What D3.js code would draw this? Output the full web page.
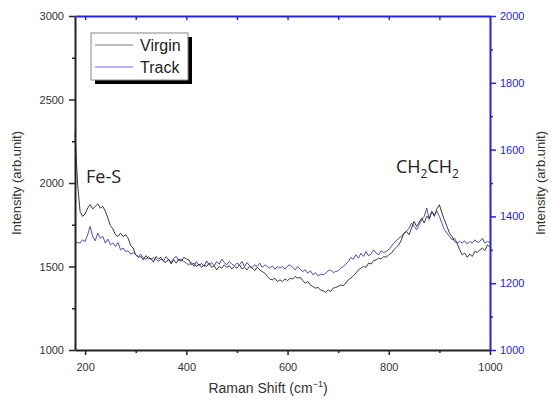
<!DOCTYPE html>
<html>
<head>
<meta charset="utf-8">
<style>
  body { margin: 0; background: #fff; }
  svg { display: block; font-family: "Liberation Sans", Arial, sans-serif; }
</style>
</head>
<body>
<script src="https://d3js.org/d3.v7.min.js"></script>
<script>
// Raman shift sampling (cm-1)
var shift = [180,185,190,195,200,205,210,215,220,225,230,235,240,245,250,255,260,265,270,275,
  280,285,290,295,300,305,310,315,320,325,330,335,340,345,350,355,360,365,370,375,
  380,385,390,395,400,405,410,415,420,425,430,435,440,445,450,455,460,465,470,475,
  480,485,490,495,500,505,510,515,520,525,530,535,540,545,550,555,560,565,570,575,
  580,585,590,595,600,605,610,615,620,625,630,635,640,645,650,655,660,665,670,675,
  680,685,690,695,700,705,710,715,720,725,730,735,740,745,750,755,760,765,770,775,
  780,785,790,795,800,805,810,815,820,825,830,835,840,845,850,855,860,865,870,875,
  880,885,890,895,900,905,910,915,920,925,930,935,940,945,950,955,960,965,970,975,
  980,985,990,995,1000];

// Virgin, left axis
var virgin = [2300,2000,1830,1800,1815,1850,1870,1845,1860,1875,1850,1860,1830,1790,1745,1725,1690,1680,1700,1680,
  1690,1670,1625,1610,1570,1555,1560,1540,1565,1545,1550,1525,1560,1545,1555,1530,1525,1545,1515,1540,
  1520,1545,1530,1555,1545,1540,1510,1520,1500,1515,1495,1510,1500,1520,1495,1505,1480,1500,1490,1510,
  1495,1505,1485,1500,1490,1510,1485,1495,1480,1500,1490,1475,1495,1480,1470,1460,1440,1425,1420,1430,
  1410,1420,1410,1425,1415,1430,1425,1440,1430,1435,1415,1400,1410,1390,1380,1370,1375,1360,1355,1345,
  1360,1350,1370,1375,1380,1390,1385,1400,1420,1430,1445,1460,1480,1490,1500,1495,1520,1515,1535,1540,
  1550,1545,1560,1555,1570,1580,1600,1615,1630,1660,1700,1710,1690,1730,1770,1740,1765,1790,1760,1800,
  1790,1830,1800,1845,1870,1820,1780,1740,1700,1680,1650,1640,1600,1570,1580,1555,1575,1560,1590,1585,
  1600,1610,1595,1630,1615];

// Track, right axis
var track = [1320,1322,1320,1330,1325,1345,1370,1340,1327,1350,1335,1340,1320,1332,1315,1320,1310,1322,1300,1305,
  1295,1297,1287,1292,1285,1280,1287,1275,1272,1280,1270,1277,1272,1265,1272,1267,1280,1270,1262,1275,
  1280,1267,1272,1265,1260,1255,1262,1250,1265,1252,1260,1250,1267,1255,1262,1252,1265,1257,1272,1262,
  1255,1265,1257,1252,1260,1255,1265,1250,1262,1252,1247,1255,1250,1260,1247,1255,1250,1245,1252,1242,
  1250,1245,1250,1242,1252,1255,1247,1240,1250,1242,1235,1240,1230,1237,1225,1232,1222,1227,1225,1230,
  1237,1240,1232,1235,1237,1245,1250,1257,1265,1277,1272,1285,1275,1290,1280,1295,1282,1287,1300,1290,
  1285,1297,1292,1295,1300,1310,1320,1327,1335,1340,1350,1355,1365,1380,1370,1360,1375,1390,1400,1425,
  1390,1415,1405,1415,1400,1380,1360,1350,1340,1330,1335,1320,1325,1320,1327,1317,1325,1320,1330,1322,
  1325,1335,1320,1325,1322];

var leftTicks = [1000,1500,2000,2500,3000];
var rightTicks = [1000,1200,1400,1600,1800,2000];
var xTicks = [200,400,600,800,1000];

var W = 551, H = 407;
var L = 75, R = 490, T = 16, B = 350;
var blue = "#2424d8";
var fmt = d3.format("d");

var svg = d3.select("body").append("svg").attr("width", W).attr("height", H);

var x = d3.scaleLinear().domain([180, 1000]).range([L, R]);
var yL = d3.scaleLinear().domain([1000, 3000]).range([B, T]);
var yR = d3.scaleLinear().domain([1000, 2000]).range([B, T]);

// data lines
var lineV = d3.line().x(function(d, i){ return x(shift[i]); }).y(function(d){ return yL(d); });
var lineT = d3.line().x(function(d, i){ return x(shift[i]); }).y(function(d){ return yR(d); });

var plot = svg.append("g");
plot.append("path").datum(track).attr("d", lineT)
  .attr("fill", "none").attr("stroke", "#4f4fb0").attr("stroke-width", 1);
plot.append("path").datum(virgin).attr("d", lineV)
  .attr("fill", "none").attr("stroke", "#3a3a3a").attr("stroke-width", 1);

// axes
function styleAxis(g, col) {
  g.select(".domain").attr("stroke", col).attr("stroke-width", 2);
  g.selectAll(".tick line").attr("stroke", col).attr("stroke-width", 1.5);
  g.selectAll(".tick text").attr("fill", col).attr("font-size", 11);
}

var gl = svg.append("g").attr("transform", "translate(" + L + ",0)")
  .call(d3.axisLeft(yL).tickValues(leftTicks).tickFormat(fmt).tickSize(6).tickSizeOuter(0).tickPadding(5));
styleAxis(gl, "#222");
gl.selectAll(".tick text").attr("fill", "#333");
svg.append("g").attr("transform", "translate(" + L + ",0)")
  .call(d3.axisLeft(yL).tickValues([1250,1750,2250,2750]).tickSize(3).tickFormat(""))
  .call(function(g){ g.select(".domain").remove(); g.selectAll("line").attr("stroke", "#222").attr("stroke-width", 1.5); });

var gb = svg.append("g").attr("transform", "translate(0," + B + ")")
  .call(d3.axisBottom(x).tickValues(xTicks).tickFormat(fmt).tickSize(5).tickSizeOuter(0).tickPadding(8));
styleAxis(gb, "#222");
gb.selectAll(".tick text").attr("fill", "#333");
svg.append("g").attr("transform", "translate(0," + B + ")")
  .call(d3.axisBottom(x).tickValues([300,500,700,900]).tickSize(3).tickFormat(""))
  .call(function(g){ g.select(".domain").remove(); g.selectAll("line").attr("stroke", "#222").attr("stroke-width", 1.5); });

var gt = svg.append("g").attr("transform", "translate(0," + T + ")")
  .call(d3.axisBottom(x).tickValues([200,300,400,500,600,700,800,900]).tickSize(4).tickSizeOuter(0).tickFormat(""));
styleAxis(gt, blue);

var gr = svg.append("g").attr("transform", "translate(" + R + ",0)")
  .call(d3.axisRight(yR).tickValues(rightTicks).tickFormat(fmt).tickSize(6).tickSizeOuter(0).tickPadding(4));
styleAxis(gr, blue);
svg.append("g").attr("transform", "translate(" + R + ",0)")
  .call(d3.axisRight(yR).tickValues([1100,1300,1500,1700,1900]).tickSize(3).tickFormat(""))
  .call(function(g){ g.select(".domain").remove(); g.selectAll("line").attr("stroke", blue).attr("stroke-width", 1.5); });

// axis titles
svg.append("text").attr("transform", "translate(21," + ((T + B) / 2) + ") rotate(-90)")
  .attr("text-anchor", "middle").attr("font-size", 13).attr("fill", "#333").text("Intensity (arb.unit)");
svg.append("text").attr("transform", "translate(545," + ((T + B) / 2) + ") rotate(-90)")
  .attr("text-anchor", "middle").attr("font-size", 13).attr("fill", "#333").text("Intensity (arb.unit)");
var xt = svg.append("text").attr("x", 268).attr("y", 393).attr("text-anchor", "middle")
  .attr("font-size", 14).attr("fill", "#333");
xt.append("tspan").text("Raman Shift (cm");
xt.append("tspan").attr("font-size", 9).attr("dy", -6).text("\u22121");
xt.append("tspan").attr("dy", 6).text(")");

// annotations
svg.append("text").attr("x", 86).attr("y", 183).attr("font-family", "'Open Sans', sans-serif")
  .attr("font-size", 18).attr("fill", "#222").text("Fe-S");
var ch = svg.append("text").attr("x", 396).attr("y", 173).attr("font-family", "'Open Sans', sans-serif")
  .attr("font-size", 18).attr("fill", "#222");
ch.append("tspan").text("CH");
ch.append("tspan").attr("font-size", 12).attr("dy", 5).text("2");
ch.append("tspan").attr("dy", -5).text("CH");
ch.append("tspan").attr("font-size", 12).attr("dy", 5).text("2");

// legend
var lg = svg.append("g").attr("transform", "translate(91,33)");
lg.append("rect").attr("x", 4).attr("y", 4).attr("width", 97).attr("height", 47).attr("fill", "#000");
lg.append("rect").attr("width", 97).attr("height", 47).attr("fill", "#fff").attr("stroke", "#888").attr("stroke-width", 1);
var items = [["Virgin", "#a8a8a8"], ["Track", "#9c9cff"]];
items.forEach(function(it, i) {
  var yy = 12 + i * 22;
  lg.append("line").attr("x1", 4).attr("x2", 42).attr("y1", yy).attr("y2", yy)
    .attr("stroke", it[1]).attr("stroke-width", 1.5);
  lg.append("text").attr("x", 49).attr("y", yy + 6).attr("font-size", 16).attr("fill", "#222").text(it[0]);
});
</script>
</body>
</html>
